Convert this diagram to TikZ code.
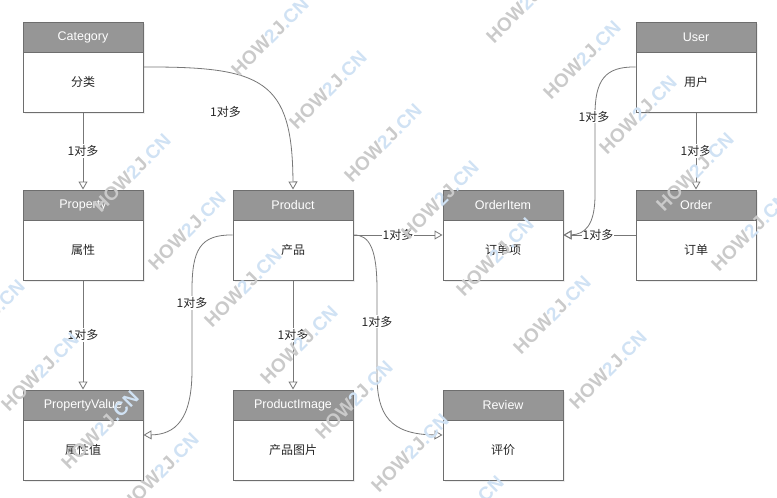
\documentclass[tikz,border=0pt]{standalone}
\usepackage{fontspec}
\setmainfont{Liberation Sans}
\newfontfamily\cjk{Noto Sans CJK SC}
\usetikzlibrary{arrows.meta,calc,shadows}
\definecolor{hdrgray}{HTML}{969696}
\definecolor{bordergray}{HTML}{6E6E6E}
\definecolor{linegray}{HTML}{777777}
\definecolor{wmgray}{RGB}{202,202,202}
\definecolor{wmblue}{RGB}{208,226,244}
\tikzset{
 entity/.style={draw=bordergray, line width=1pt, fill=white, minimum width=120pt, minimum height=90pt, inner sep=0pt, anchor=north west, drop shadow={shadow xshift=2pt, shadow yshift=-2pt, opacity=0.12}},
 hdr/.style={draw=bordergray, line width=1pt, fill=hdrgray, minimum width=120pt, minimum height=30pt, inner sep=0pt, anchor=north, text=white, font=\fontsize{12.5}{15}\selectfont},
 bodytxt/.style={font=\cjk\fontsize{12}{15}\selectfont, text=black!85},
 rel/.style={draw=linegray, line width=0.8pt, -{Triangle[open, length=8pt, width=9pt]}},
 lbl/.style={fill=white, inner sep=1pt, font=\cjk\fontsize{12}{15}\selectfont, text=black!85},
 wm/.style={rotate=45, font=\bfseries\fontsize{19}{20}\selectfont, inner sep=0pt},
}
\newcommand\entitybox[5]{%
 \node[entity] (#1) at (#2,#3) {};
 \node[hdr] (#1h) at (#1.north) {#4};
 \node[bodytxt] (#1b) at ($(#1.north)+(0,60)$) {#5};
}
\newcommand\wmark[3]{\node[wm] (#1) at (#2,#3) {{\color{wmgray}HOW}{\color{wmblue}2}{\color{wmgray}J}{\color{wmblue}.CN}};}
\begin{document}
\begin{tikzpicture}[x=1pt,y=-1pt]
\clip (0,0) rectangle (777,498);
\fill[white] (0,0) rectangle (777,498);
% entities
\entitybox{cat}{22.5}{21.5}{Category}{分类}
\entitybox{prop}{22.5}{189.5}{Property}{属性}
\entitybox{pv}{22.5}{389.5}{PropertyValue}{属性值}
\entitybox{prod}{232.5}{189.5}{Product}{产品}
\entitybox{pimg}{232.5}{389.5}{ProductImage}{产品图片}
\entitybox{oi}{442.5}{189.5}{OrderItem}{订单项}
\entitybox{rev}{442.5}{389.5}{Review}{评价}
\entitybox{usr}{635.5}{21.5}{User}{用户}
\entitybox{ord}{635.5}{189.5}{Order}{订单}
% straight relations
\draw[rel] (cat.south) -- node[lbl, pos=0.5] (l1) {1对多} (prop.north);
\draw[rel] (prop.south) -- node[lbl, pos=0.5] (l2) {1对多} (pv.north);
\draw[rel] (prod.south) -- node[lbl, pos=0.5] (l3) {1对多} (pimg.north);
\draw[rel] (prod.east) -- node[lbl, pos=0.5] (l4) {1对多} (oi.west);
\draw[rel] (usr.south) -- node[lbl, pos=0.5] (l5) {1对多} (ord.north);
\draw[rel] (ord.west) -- node[lbl, pos=0.52] (l6) {1对多} (oi.east);
% curved relations
\draw[rel] (cat.east) .. controls (262.5,66.5) and (292.5,79.5) .. (prod.north);
\node[lbl] (l7) at (225.5,111.5) {1对多};
\draw[rel] (prod.west) .. controls (200,234.5) and (192,250) .. (192,290)
  -- (192,370) .. controls (192,420) and (175,434.5) .. (pv.east);
\node[lbl] (l8) at (192,303) {1对多};
\draw[rel] (prod.east) .. controls (370,234.5) and (377,250) .. (377,290)
  -- (377,375) .. controls (377,415) and (390,434.5) .. (rev.west);
\node[lbl] (l9) at (377,321.5) {1对多};
\draw[rel] (usr.west) .. controls (605,66.5) and (595,80) .. (595,115)
  -- (595,195) .. controls (595,225) and (585,234.5) .. (oi.east);
\node[lbl] (l10) at (594,116.5) {1对多};
% watermarks
\wmark{w1}{270}{37}
\wmark{w2}{328}{90}
\wmark{w3}{383}{143}
\wmark{w4}{440}{200}
\wmark{w5}{495}{257}
\wmark{w6}{552}{315}
\wmark{w7}{608}{370}
\wmark{w8}{525}{4}
\wmark{w9}{582}{60}
\wmark{w10}{638}{115}
\wmark{w11}{695}{172}
\wmark{w12}{750}{232}
\wmark{w13}{132}{173}
\wmark{w14}{187}{231}
\wmark{w15}{243}{288}
\wmark{w16}{299}{345}
\wmark{w17}{354}{400}
\wmark{w18}{410}{453}
\wmark{w19}{465}{515}
\wmark{w20}{-14}{319}
\wmark{w21}{40}{372}
\wmark{w22}{100}{430}
\wmark{w23}{160}{472}
\end{tikzpicture}
\end{document}
